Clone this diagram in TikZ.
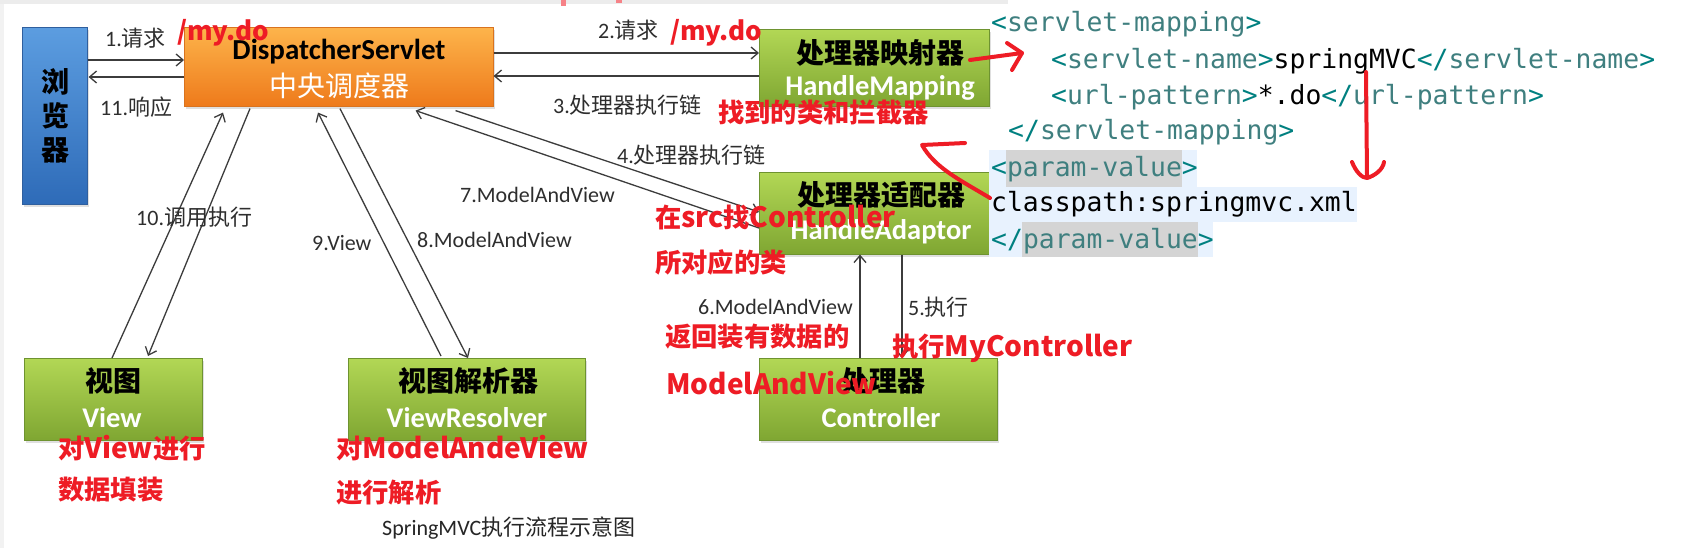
\documentclass[tikz,border=0pt]{standalone}
\usepackage{fontspec}
\setmainfont{Carlito}
\newfontfamily\cjk{Noto Sans CJK SC}
\newfontfamily\mono{DejaVu Sans Mono}
\usetikzlibrary{arrows.meta,shadows}
\definecolor{redann}{HTML}{EE1C25}
\definecolor{lbl}{HTML}{2E2E2E}
\definecolor{brk}{HTML}{008080}
\definecolor{tnm}{HTML}{3F7F7F}
\definecolor{pbg}{HTML}{E8F2FE}
\definecolor{pgr}{HTML}{D4D4D4}
\definecolor{gtop}{HTML}{B2D755}
\definecolor{gbot}{HTML}{7FA632}
\definecolor{gbd}{HTML}{6E9330}
\definecolor{otop}{HTML}{FDB44B}
\definecolor{obot}{HTML}{EE7A1B}
\definecolor{obd}{HTML}{D9731F}
\definecolor{btop}{HTML}{5C9DE0}
\definecolor{bbot}{HTML}{2E6BB8}
\definecolor{bbd}{HTML}{2F5F9E}
\definecolor{conn}{HTML}{3C3C3C}
\newcommand\fsz[1]{\fontsize{#1}{#1}\selectfont}
\newcommand\rcj[1]{{\cjk\bfseries #1}}
\newcommand\rla[1]{{\cjk\bfseries\fontsize{28}{28}\selectfont #1}}
\newcommand\otag[1]{\textcolor{brk}{<}\textcolor{tnm}{#1}\textcolor{brk}{>}}
\newcommand\ctag[1]{\textcolor{brk}{</}\textcolor{tnm}{#1}\textcolor{brk}{>}}
\tikzset{
  box/.style={draw, line width=0.6pt, anchor=north west, inner sep=0pt,
    drop shadow={shadow xshift=2pt, shadow yshift=-3pt, opacity=0.25}},
  gbox/.style={box, draw=gbd, top color=gtop, bottom color=gbot},
  obox/.style={box, draw=obd, top color=otop, bottom color=obot},
  bbox/.style={box, draw=bbd, top color=btop, bottom color=bbot},
  ttl/.style={inner sep=0pt, font=\cjk\bfseries\fsz{28}, text=black},
  sub/.style={inner sep=0pt, font=\bfseries\fsz{28.5}, text=white},
  lab/.style={inner sep=0pt, anchor=west, font=\fsz{22}, text=lbl},
  red/.style={inner sep=0pt, anchor=west, font=\fsz{26.3}, text=redann},
  code/.style={inner sep=0pt, anchor=west, font=\mono\fsz{26.4}, text=black, text height=19pt, text depth=6pt},
  arr/.style={draw=conn, line width=1.3pt, -{Straight Barb[length=7pt,width=12pt]}},
  rstroke/.style={draw=redann, line width=4pt, line cap=round, line join=round},
}
\begin{document}
\begin{tikzpicture}[x=1pt,y=-1pt]
\useasboundingbox (0,0) rectangle (1700,557);
\fill[white] (0,0) rectangle (1700,557);
% screenshot frame remnants
\fill[gray!15] (0,0) rectangle (1008,4);
\fill[gray!10] (0,4) rectangle (4,548);
\fill[redann!55] (561,0) rectangle (566,6);
\fill[redann!55] (616,0) rectangle (622,3);

% boxes
\node[bbox, minimum width=65pt, minimum height=177pt] (brow) at (22,27) {};
\node[obox, minimum width=309pt, minimum height=79pt] (disp) at (184,27) {};
\node[gbox, minimum width=230pt, minimum height=77pt] (map) at (759,29) {};
\node[gbox, minimum width=230pt, minimum height=82pt] (adapt) at (759,172) {};
\node[gbox, minimum width=238pt, minimum height=82pt] (ctrl) at (759,358) {};
\node[gbox, minimum width=178pt, minimum height=82pt] (view) at (24,358) {};
\node[gbox, minimum width=237pt, minimum height=82pt] (vres) at (348,358) {};

% box texts
\node[inner sep=0pt, align=center, font=\cjk\bfseries\fontsize{28}{34}\selectfont] (browT) at (55,116) {浏\\览\\器};
\node[inner sep=0pt, font=\bfseries\fsz{29}] (dispT) at (339,52) {DispatcherServlet};
\node[inner sep=0pt, font=\cjk\fsz{28}, text=white] (dispS) at (339,86) {中央调度器};
\node[ttl] (mapT) at (880,53) {处理器映射器};
\node[sub] (mapS) at (880,88) {HandleMapping};
\node[ttl] (adaptT) at (881,195) {处理器适配器};
\node[sub] (adaptS) at (881,232) {HandleAdaptor};
\node[ttl] (ctrlT) at (883,381) {处理器};
\node[sub] (ctrlS) at (881,418) {Controller};
\node[ttl] (viewT) at (113,381) {视图};
\node[sub] (viewS) at (112,418) {View};
\node[ttl] (vresT) at (468,381) {视图解析器};
\node[sub] (vresS) at (467,418) {ViewResolver};

% connectors
\draw[arr] ([yshift=-33pt]brow.north east) coordinate (a1) -- (a1 -| disp.west);
\draw[arr] ([yshift=-50pt]disp.north west) coordinate (a11) -- ([xshift=1pt]a11 -| brow.east);
\draw[arr] ([yshift=-26pt]disp.north east) coordinate (a2) -- (a2 -| map.west);
\draw[arr] ([yshift=-47pt]map.north west) coordinate (a3) -- (a3 -| disp.east);
\draw[arr] ([xshift=-38pt,yshift=-4pt]disp.south east) -- ([yshift=-40pt]adapt.north west);
\draw[arr] ([yshift=-56pt]adapt.north west) -- ([xshift=-78pt,yshift=-4pt]disp.south east);
\draw[arr] ([xshift=143pt]adapt.south west) -- ([xshift=143pt]ctrl.north west);
\draw[arr] ([xshift=101pt]ctrl.north west) -- ([xshift=101pt]adapt.south west);
\draw[arr] ([xshift=156pt,yshift=-2pt]disp.south west) -- ([xshift=120pt]vres.north west);
\draw[arr] ([xshift=93pt,yshift=2pt]vres.north west) -- ([xshift=134pt,yshift=-6pt]disp.south west);
\draw[arr] ([xshift=88pt]view.north west) -- ([xshift=39pt,yshift=-6pt]disp.south west);
\draw[arr] ([xshift=66pt,yshift=-2pt]disp.south west) -- ([xshift=124pt,yshift=2pt]view.north west);

% connector labels
\node[lab] (l1) at (105,38) {1.{\cjk 请求}};
\node[lab] (l11) at (100,107) {11.{\cjk 响应}};
\node[lab] (l2) at (598,30) {2.{\cjk 请求}};
\node[lab] (l3) at (553,105) {3.{\cjk 处理器执行链}};
\node[lab] (l4) at (617,155) {4.{\cjk 处理器执行链}};
\node[lab] (l7) at (460,195) {7.ModelAndView};
\node[lab] (l6) at (698,307) {6.ModelAndView};
\node[lab] (l5) at (908,307) {5.{\cjk 执行}};
\node[lab] (l10) at (136,217) {10.{\cjk 调用执行}};
\node[lab] (l9) at (312,243) {9.View};
\node[lab] (l8) at (417,240) {8.ModelAndView};
\node[lab, font=\fsz{22}, text=black!85] (cap) at (382,528) {SpringMVC{\cjk 执行流程示意图}};

% red annotations
\node[red, font=\cjk\bfseries\fsz{26}] (r1) at (177,33) {/my.do};
\node[red, font=\cjk\bfseries\fsz{26}] (r2) at (670,33) {/my.do};
\node[red] (r3) at (718,113) {\rcj{找到的类和拦截器}};
\node[red] (r4) at (655,217) {\rcj{在}\rla{src}\rcj{找}\rla{Controller}};
\node[red] (r5) at (655,262) {\rcj{所对应的类}};
\node[red] (r6) at (665,337) {\rcj{返回装有数据的}};
\node[red] (r7) at (892,348) {\rcj{执行}\rla{MyController}};
\node[red] (r8) at (666,383) {\rla{ModelAndView}};
\node[red] (r9) at (58,448) {\rcj{对}\rla{View}\rcj{进行}};
\node[red] (r10) at (58,490) {\rcj{数据填装}};
\node[red] (r11) at (336,448) {\rcj{对}\rla{ModelAndeView}};
\node[red] (r12) at (336,493) {\rcj{进行解析}};

% code panel
\fill[pbg] (989,150) rectangle (1197,187);
\fill[pbg] (989,187) rectangle (1357,222);
\fill[pbg] (989,222) rectangle (1213,257);
\fill[pgr] (1006,150) rectangle (1182,187);
\fill[pgr] (1022,222) rectangle (1198,257);
\node[code] (c1) at (991,25) {\otag{servlet-mapping}};
\node[code] (c2) at (1051,62) {\otag{servlet-name}springMVC\ctag{servlet-name}};
\node[code] (c3) at (1051,98) {\otag{url-pattern}*.do\ctag{url-pattern}};
\node[code] (c4) at (1008,133) {\ctag{servlet-mapping}};
\node[code] (c5) at (991,170) {\otag{param-value}};
\node[code] (c6) at (991,205) {classpath:springmvc.xml};
\node[code] (c7) at (991,242) {\ctag{param-value}};

% red hand-drawn arrows
\draw[rstroke] (970,60) -- (1022,53);
\draw[rstroke] (1007,43) -- (1022,53) -- (1012,70);
\draw[rstroke] (1366,72) -- (1367,176);
\draw[rstroke] (1352,162) .. controls (1356,172) and (1362,178) .. (1367,178) .. controls (1374,176) and (1383,170) .. (1384,162);
\draw[rstroke] (990,198) .. controls (960,180) and (935,168) .. (922,145) -- (965,143);
\end{tikzpicture}
\end{document}
